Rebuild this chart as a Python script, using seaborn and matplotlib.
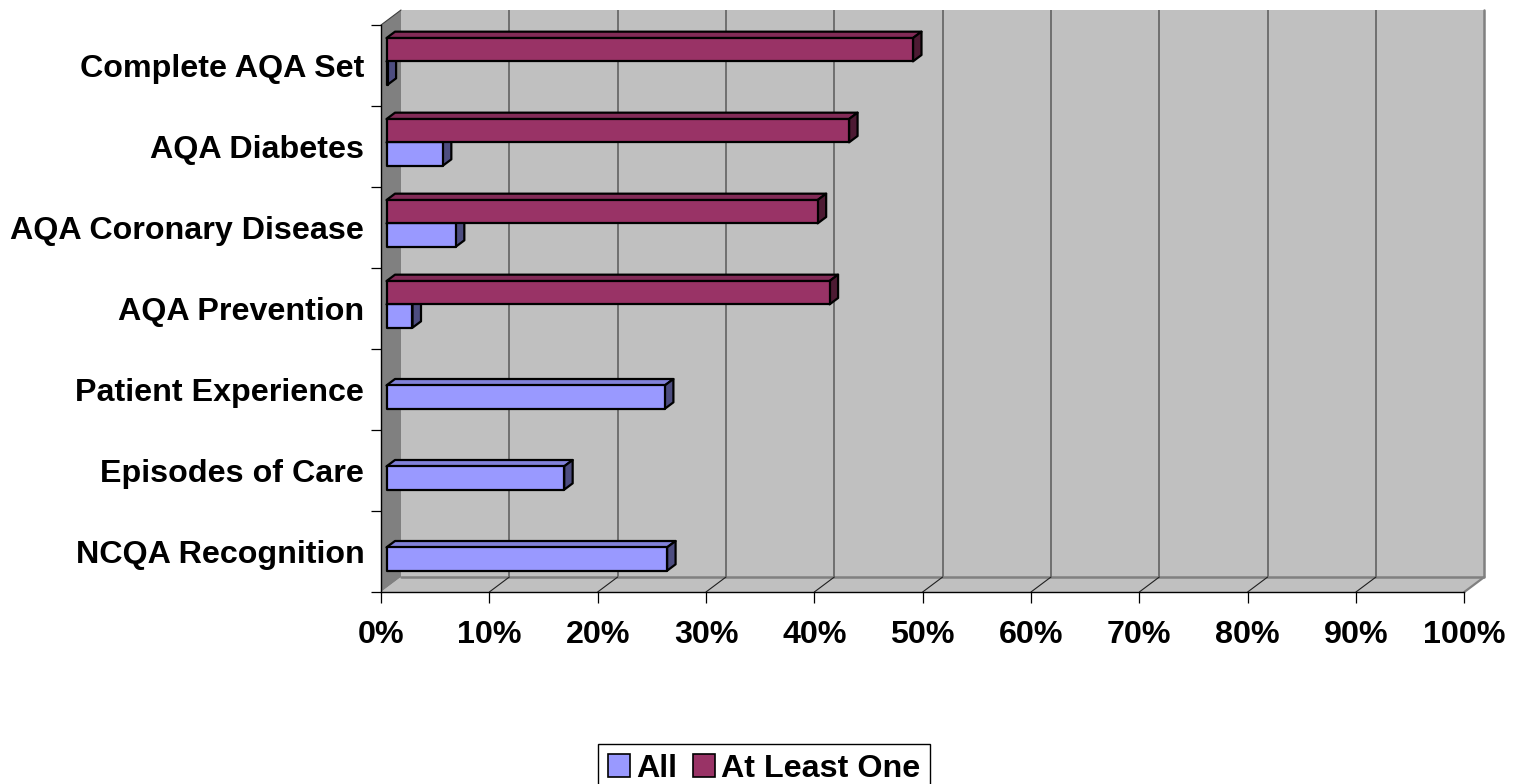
import numpy as np
import pandas as pd
import seaborn as sns
import matplotlib
matplotlib.use("Agg")
import matplotlib.pyplot as plt
from matplotlib.patches import Polygon, Patch
from matplotlib.transforms import offset_copy
from matplotlib.colors import to_rgb

# ---------------- data ----------------
categories = ["Complete AQA Set", "AQA Diabetes", "AQA Coronary Disease",
              "AQA Prevention", "Patient Experience", "Episodes of Care",
              "NCQA Recognition"]
all_values = [0.001, 0.052, 0.064, 0.024, 0.257, 0.164, 0.259]
at_least_one_values = [0.486, 0.427, 0.398, 0.409, None, None, None]
series_names = ["All", "At Least One"]
series_colors = {"All": "#9999FF", "At Least One": "#993366"}
x_ticks = [0.0, 0.1, 0.2, 0.3, 0.4, 0.5, 0.6, 0.7, 0.8, 0.9, 1.0]
x_tick_labels = ["0%", "10%", "20%", "30%", "40%", "50%", "60%", "70%",
                 "80%", "90%", "100%"]

rows = []
for c, a, b in zip(categories, all_values, at_least_one_values):
    rows.append({"category": c, "series": "All", "value": a})
    if b is not None:
        rows.append({"category": c, "series": "At Least One", "value": b})
df = pd.DataFrame(rows)

# ---------------- style ----------------
sns.set_style("white")
plt.rcParams["font.family"] = ["Liberation Sans", "DejaVu Sans"]
plt.rcParams["font.weight"] = "bold"
plt.rcParams["text.color"] = "black"
plt.rcParams["xtick.color"] = "black"
plt.rcParams["ytick.color"] = "black"
plt.rcParams["xtick.labelcolor"] = "black"
plt.rcParams["ytick.labelcolor"] = "black"
FS = 23.2
EDGE = 1.6

W, H, DPI = 1519, 784, 100
fig = plt.figure(figsize=(W / DPI, H / DPI), dpi=DPI)
ax_left, ax_right, ax_top, ax_bottom = 381, 1464.3, 25, 592
ax = fig.add_axes([ax_left / W, (H - ax_bottom) / H,
                   (ax_right - ax_left) / W, (ax_bottom - ax_top) / H])
ax.set_facecolor("none")

sns.barplot(data=df, y="category", x="value", hue="series",
            hue_order=["At Least One", "All"], order=categories,
            palette=series_colors, orient="h", width=0.576, saturation=1,
            errorbar=None, legend=False, ax=ax,
            edgecolor="black", linewidth=EDGE)

n = len(categories)
ax.set_xlim(0, 1)
ax.set_ylim(n - 0.5, -0.5)

# 3D offsets (pixels)
WALL_DX, WALL_DY = 20.0, 15.0
FRONT_D, BACK_D = 0.275, 0.70


def shifted(xs, ys, dx, dy):
    p = ax.transData.transform(np.column_stack([xs, ys]))
    p = p + np.array([dx, dy])
    return ax.transData.inverted().transform(p)


ybot, ytop = n - 0.5, -0.5
# back wall
wall = shifted([0, 1, 1, 0], [ybot, ybot, ytop, ytop], WALL_DX, WALL_DY)
ax.add_patch(Polygon(wall, closed=True, facecolor="#C0C0C0", edgecolor="none",
                     zorder=0.5, clip_on=False))
# gridlines on back wall
for t in x_ticks[1:-1]:
    g = shifted([t, t], [ybot, ytop], WALL_DX, WALL_DY)
    ax.plot(g[:, 0], g[:, 1], color="#5A5A5A", lw=1.1, zorder=0.8,
            clip_on=False, solid_capstyle="butt")
# wall right & bottom edges
e = shifted([0, 1, 1], [ybot, ybot, ytop], WALL_DX, WALL_DY)
ax.plot(e[:, 0], e[:, 1], color="#808080", lw=1.8, zorder=0.9, clip_on=False)
# floor
fl_back = shifted([1, 0], [ybot, ybot], WALL_DX, WALL_DY)
floor = np.vstack([[[0, ybot], [1, ybot]], fl_back])
ax.add_patch(Polygon(floor, closed=True, facecolor="#C0C0C0", edgecolor="none",
                     zorder=0.6, clip_on=False))
for t in x_ticks[1:-1]:
    b = shifted([t], [ybot], WALL_DX, WALL_DY)[0]
    ax.plot([t, b[0]], [ybot, b[1]], color="#202020", lw=0.8, zorder=0.9,
            clip_on=False)
b = shifted([1], [ybot], WALL_DX, WALL_DY)[0]
ax.plot([1, b[0]], [ybot, b[1]], color="#808080", lw=1.6, zorder=0.9,
        clip_on=False)
# left side wall
lw_back = shifted([0, 0], [ytop, ybot], WALL_DX, WALL_DY)
left_wall = np.vstack([[[0, ybot], [0, ytop]], lw_back])
ax.add_patch(Polygon(left_wall, closed=True, facecolor="#808080",
                     edgecolor="none", zorder=0.7, clip_on=False))
tl = shifted([0], [ytop], WALL_DX, WALL_DY)[0]
ax.plot([0, tl[0]], [ytop, tl[1]], color="#404040", lw=0.8, zorder=0.9,
        clip_on=False)

# 3D bars
fdx, fdy = WALL_DX * FRONT_D, WALL_DY * FRONT_D
bdx, bdy = WALL_DX * BACK_D, WALL_DY * BACK_D
front_trans = offset_copy(ax.transData, fig=fig, x=fdx, y=fdy, units="dots")
for patch in list(ax.patches):
    if not hasattr(patch, "get_width"):
        continue
    w = patch.get_width()
    if not np.isfinite(w):
        continue
    x0 = patch.get_x()
    x1 = x0 + w
    y0 = patch.get_y()
    y1 = y0 + patch.get_height()
    yt, yb = min(y0, y1), max(y0, y1)
    yc = 0.5 * (y0 + y1)
    z = 3 + (n - yc) * 0.1
    col = np.array(to_rgb(patch.get_facecolor()))
    patch.set_transform(front_trans)
    patch.set_zorder(z + 0.02)
    patch.set_clip_on(False)
    patch.set_joinstyle("round")
    ft = shifted([x0, x1], [yt, yt], fdx, fdy)
    bt = shifted([x1, x0], [yt, yt], bdx, bdy)
    top_face = np.vstack([ft, bt])
    ax.add_patch(Polygon(top_face, closed=True, facecolor=col * 0.85,
                         edgecolor="black", lw=EDGE, zorder=z,
                         clip_on=False, joinstyle="round"))
    fr = shifted([x1, x1], [yt, yb], fdx, fdy)
    br = shifted([x1, x1], [yb, yt], bdx, bdy)
    right_face = np.vstack([fr, br])
    ax.add_patch(Polygon(right_face, closed=True, facecolor=col * 0.5,
                         edgecolor="black", lw=EDGE, zorder=z + 0.01,
                         clip_on=False, joinstyle="round"))

# axes, ticks
for s in ["top", "right"]:
    ax.spines[s].set_visible(False)
for s in ["left", "bottom"]:
    ax.spines[s].set_color("black")
    ax.spines[s].set_linewidth(1.0)
    ax.spines[s].set_zorder(1.0)

ax.set_xticks(x_ticks)
ax.set_xticklabels(x_tick_labels, fontsize=FS, fontweight="bold",
                   color="black")
ax.tick_params(axis="x", which="major", bottom=True, direction="out",
               length=8, width=0.9, color="black", pad=12)
ax.set_yticks(range(n))
ax.set_yticklabels(categories, fontsize=FS, fontweight="bold", color="black")
ax.set_yticks(np.arange(-0.5, n, 1.0), minor=True)
ax.tick_params(axis="y", which="major", left=True, length=0, pad=12)
ax.tick_params(axis="y", which="minor", left=True, direction="out",
               length=7.2, width=0.9, color="black")
ax.set_xlabel("")
ax.set_ylabel("")
ax.grid(False)

# legend
handles = [Patch(facecolor=series_colors[s], edgecolor="black", lw=1.2)
           for s in series_names]
leg = fig.legend(handles, series_names, loc="lower center",
                 bbox_to_anchor=(764 / W, -0.012), ncol=2,
                 prop={"size": FS, "weight": "bold"},
                 frameon=True, fancybox=False, framealpha=1,
                 edgecolor="black", borderpad=0.3, handlelength=0.68,
                 handleheight=0.68, handletextpad=0.18, columnspacing=0.5,
                 borderaxespad=0)
leg.get_frame().set_linewidth(1.0)
for t in leg.get_texts():
    t.set_color("black")

fig.savefig("out.png", dpi=DPI)
